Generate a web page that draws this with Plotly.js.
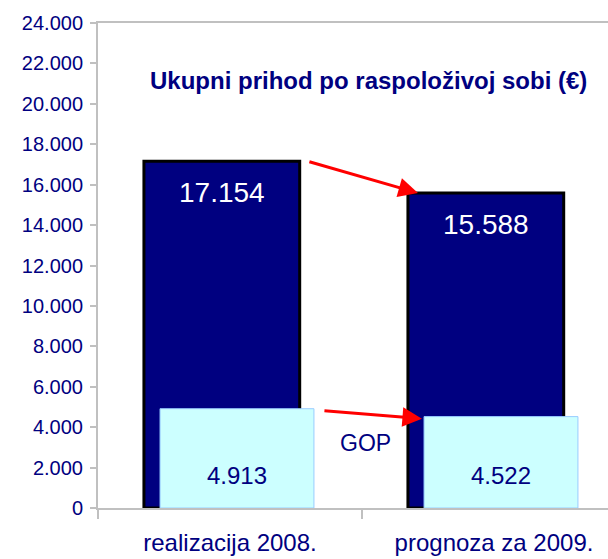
<!DOCTYPE html>
<html><head><meta charset="utf-8">
<script src="https://cdn.plot.ly/plotly-3.0.1.min.js"></script>
<style>html,body{margin:0;padding:0;background:#fff}#chart{width:608px;height:559px}</style>
</head><body><div id="chart"></div>
<script>
const categories = ["realizacija 2008.", "prognoza za 2009."];
const prihod = [17154, 15588];
const gop = [4913, 4522];
const yTicks = [0,2000,4000,6000,8000,10000,12000,14000,16000,18000,20000,22000,24000];
const chartTitle = "Ukupni prihod po raspoloživoj sobi (€)";
const gopLabel = "GOP";

const NAVY = "#000080";
const FONT = "'Liberation Sans',Arial,sans-serif";
function fmt(v){ return String(v).replace(/\B(?=(\d{3})+(?!\d))/g, "."); }

const traces = [
  {type:"bar", x:categories, y:prihod, width:0.59, offset:-0.326,
   marker:{color:NAVY, line:{color:"#000000", width:3}}, hoverinfo:"none"},
  {type:"bar", x:categories, y:gop, width:0.583, offset:-0.265,
   marker:{color:"#ccffff", line:{color:"#99ccff", width:1}}, hoverinfo:"none"}
];

const ann = [];
prihod.forEach((v,i)=>{
  ann.push({x:i-0.03, y:v, xref:"x", yref:"y", text:fmt(v), showarrow:false,
    yanchor:"top", yshift:-14, font:{family:FONT, size:28, color:"#ffffff"}});
});
gop.forEach((v,i)=>{
  ann.push({x:i+0.027, y:0, xref:"x", yref:"y", text:fmt(v), showarrow:false,
    yanchor:"bottom", yshift:17, font:{family:FONT, size:24, color:NAVY}});
});
// arrows from 2008 to 2009
ann.push({x:0.712, y:prihod[1], ax:0.295, ay:prihod[0], xref:"x", yref:"y", axref:"x", ayref:"y",
  showarrow:true, arrowhead:2, arrowsize:1.3, arrowwidth:3, arrowcolor:"#ff0000", text:""});
ann.push({x:0.727, y:gop[1]-100, ax:0.352, ay:gop[0]-100, xref:"x", yref:"y", axref:"x", ayref:"y",
  showarrow:true, arrowhead:2, arrowsize:1.3, arrowwidth:3, arrowcolor:"#ff0000", text:""});
ann.push({x:0.515, y:3200, xref:"x", yref:"y", text:gopLabel, showarrow:false,
  font:{family:FONT, size:23, color:NAVY}});
ann.push({x:(368-98)/510, y:(559-80-51)/485, xref:"paper", yref:"paper",
  text:"<b>"+chartTitle+"</b>", showarrow:false, xanchor:"center", yanchor:"middle",
  font:{family:FONT, size:24, color:NAVY}});

const layout = {
  width:608, height:559,
  margin:{l:98, r:0, t:23, b:51},
  paper_bgcolor:"#ffffff", plot_bgcolor:"#ffffff",
  showlegend:false, barmode:"overlay",
  separators:",.",
  font:{family:FONT, color:NAVY},
  xaxis:{type:"category", range:[-0.5, -0.5+510/264], tickson:"boundaries",
    ticks:"outside", ticklen:9, tickcolor:"#c0c0c0", tickwidth:2,
    showline:true, linecolor:"#c0c0c0", linewidth:2, mirror:true,
    showgrid:false, zeroline:false,
    tickfont:{family:FONT, size:24, color:NAVY}, ticklabelstandoff:12},
  yaxis:{range:[0,24000], tickvals:yTicks, tickformat:",", ticks:"outside", ticklen:6,
    tickcolor:"#c0c0c0", tickwidth:2, showline:true, linecolor:"#c0c0c0", linewidth:2,
    showgrid:false, zeroline:false,
    tickfont:{family:FONT, size:20, color:NAVY}, ticklabelstandoff:3},
  annotations:ann
};
Plotly.newPlot("chart", traces, layout, {displayModeBar:false, staticPlot:true});
</script></body></html>
